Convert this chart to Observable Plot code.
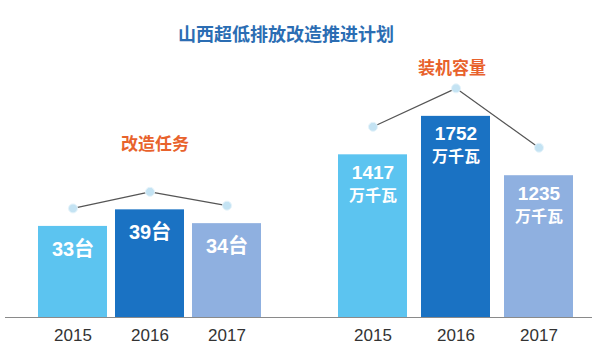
<!DOCTYPE html>
<html>
<head>
<meta charset="utf-8">
<script src="https://cdn.jsdelivr.net/npm/d3@7"></script>
<script src="https://cdn.jsdelivr.net/npm/@observablehq/plot@0.6"></script>
<style>
  html, body { margin: 0; padding: 0; background: #ffffff; }
  #wrap { position: relative; width: 600px; height: 357px; overflow: hidden; background: #fff;
          font-family: "Liberation Sans", "Noto Sans CJK SC", sans-serif; }
  .panel { position: absolute; top: 0; }
  .title { position: absolute; left: 0; width: 572px; top: 23px; line-height: 20px; text-align: center;
           font-size: 18px; font-weight: bold; color: #2b6db3; font-family: "Noto Sans CJK SC", sans-serif; }
  .sub { position: absolute; width: 120px; line-height: 20px; text-align: center;
         font-size: 17px; font-weight: bold; color: #e8622c; font-family: "Noto Sans CJK SC", sans-serif; }
</style>
</head>
<body>
<div id="wrap">
  <div class="title">山西超低排放改造推进计划</div>
  <div class="sub" style="left:95px; top:133px;">改造任务</div>
  <div class="sub" style="left:392px; top:57px;">装机容量</div>
  <div class="panel" id="left" style="left:0px;"></div>
  <div class="panel" id="right" style="left:300px;"></div>
</div>
<script>
// Data
const years = ["2015", "2016", "2017"];
const taskCounts = [33, 39, 34];          // 改造任务 (台)
const capacities = [1417, 1752, 1235];    // 装机容量 (万千瓦)
const taskUnit = "台";
const capUnit = "万千瓦";
const yearColors = ["#5cc4f0", "#1a72c3", "#8fb0e0"];

const taskData = years.map((y, i) => ({year: y, value: taskCounts[i]}));
const capData = years.map((y, i) => ({year: y, value: capacities[i]}));

const baseStyle = {fontFamily: "'Liberation Sans', 'Noto Sans CJK SC', sans-serif", fontSize: "17px", color: "#333", background: "transparent", overflow: "visible"};

const yearAxis = () => Plot.axisX({tickSize: 0, tickPadding: 11, fontSize: 17, fill: "#333", label: null});

const left = Plot.plot({
  width: 300, height: 357,
  marginTop: 20, marginBottom: 40, marginLeft: 5, marginRight: 0,
  style: baseStyle,
  x: {domain: years, range: [30, 270], paddingInner: 0.1, paddingOuter: 0.098, label: null},
  y: {domain: [0, 107.6], axis: null},
  color: {domain: years, range: yearColors},
  marks: [
    Plot.barY(taskData, {x: "year", y: "value", fill: "year"}),
    Plot.ruleY([0], {stroke: "#8a8a8a", strokeWidth: 1.2}),
    yearAxis(),
    Plot.line(taskData, {x: "year", y: "value", dy: -18, stroke: "#555", strokeWidth: 1.2}),
    Plot.dot(taskData, {x: "year", y: "value", dy: -18, r: 4.5, fill: "#c4e3f3", stroke: "#e6f4fb", strokeWidth: 1}),
    Plot.text(taskData, {x: "year", y: "value", text: d => d.value + taskUnit, dy: 23, fill: "#ffffff", fontWeight: "bold", fontSize: 20})
  ]
});
document.getElementById("left").appendChild(left);

const right = Plot.plot({
  width: 300, height: 357,
  marginTop: 20, marginBottom: 40, marginLeft: 0, marginRight: 8,
  style: baseStyle,
  x: {domain: years, range: [30, 280], paddingInner: 0.17, paddingOuter: 0.09, label: null},
  y: {domain: [0, 2587], axis: null},
  color: {domain: years, range: yearColors},
  marks: [
    Plot.barY(capData, {x: "year", y: "value", fill: "year"}),
    Plot.ruleY([0], {stroke: "#8a8a8a", strokeWidth: 1.2}),
    yearAxis(),
    Plot.line(capData, {x: "year", y: "value", dy: -28, stroke: "#555", strokeWidth: 1.2}),
    Plot.dot(capData, {x: "year", y: "value", dy: -28, r: 4.5, fill: "#c4e3f3", stroke: "#e6f4fb", strokeWidth: 1}),
    Plot.text(capData, {x: "year", y: "value", text: d => String(d.value), dy: 18, fill: "#ffffff", fontWeight: "bold", fontSize: 19}),
    Plot.text(capData, {x: "year", y: "value", text: () => capUnit, dy: 41, fill: "#ffffff", fontWeight: "bold", fontSize: 16, fontFamily: "'Noto Sans CJK SC', sans-serif"})
  ]
});
document.getElementById("right").appendChild(right);
</script>
</body>
</html>
